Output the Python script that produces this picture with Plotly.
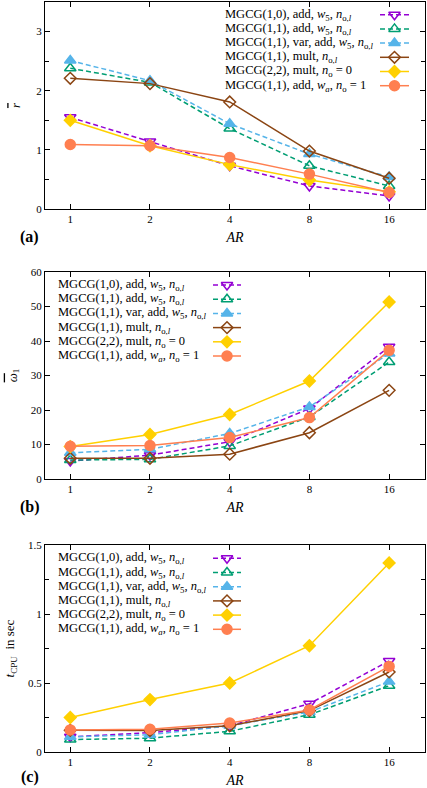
import math
import plotly.graph_objects as go

# ---------------- data ----------------
AR = [1, 2, 4, 8, 16]
AR_TICKS = ["1", "2", "4", "8", "16"]

series_names = [
    "MGCG(1,0), add, <i>w</i><sub>5</sub>, <i>n</i><sub>o,<i>l</i></sub>",
    "MGCG(1,1), add, <i>w</i><sub>5</sub>, <i>n</i><sub>o,<i>l</i></sub>",
    "MGCG(1,1), var, add, <i>w</i><sub>5</sub>, <i>n</i><sub>o,<i>l</i></sub>",
    "MGCG(1,1), mult, <i>n</i><sub>o,<i>l</i></sub>",
    "MGCG(2,2), mult, <i>n</i><sub>o</sub> = 0",
    "MGCG(1,1), add, <i>w</i><sub><i>a</i></sub>, <i>n</i><sub>o</sub> = 1",
]

# panel (a): mean r
r_mgcg10_add = [1.55, 1.14, 0.73, 0.39, 0.22]
r_mgcg11_add = [2.38, 2.14, 1.36, 0.73, 0.39]
r_mgcg11_var = [2.51, 2.17, 1.44, 0.93, 0.54]
r_mgcg11_mult = [2.21, 2.12, 1.81, 0.98, 0.52]
r_mgcg22_mult = [1.50, 1.07, 0.75, 0.49, 0.29]
r_mgcg11_wa = [1.09, 1.07, 0.87, 0.59, 0.28]

# panel (b): mean omega_1
w_mgcg10_add = [5.2, 6.9, 10.8, 20.4, 38.3]
w_mgcg11_add = [5.5, 5.7, 9.6, 18.0, 33.9]
w_mgcg11_var = [7.6, 8.6, 13.2, 20.9, 36.4]
w_mgcg11_mult = [6.0, 6.0, 7.2, 13.4, 25.7]
w_mgcg22_mult = [9.4, 12.9, 18.7, 28.4, 51.3]
w_mgcg11_wa = [9.5, 9.7, 12.0, 17.8, 37.3]

# panel (c): CPU time in sec
t_mgcg10_add = [0.11, 0.14, 0.19, 0.35, 0.66]
t_mgcg11_add = [0.09, 0.10, 0.15, 0.27, 0.48]
t_mgcg11_var = [0.11, 0.125, 0.19, 0.29, 0.51]
t_mgcg11_mult = [0.157, 0.155, 0.19, 0.30, 0.58]
t_mgcg22_mult = [0.25, 0.38, 0.50, 0.77, 1.37]
t_mgcg11_wa = [0.16, 0.165, 0.21, 0.305, 0.62]

panel_data = [
    [r_mgcg10_add, r_mgcg11_add, r_mgcg11_var, r_mgcg11_mult, r_mgcg22_mult, r_mgcg11_wa],
    [w_mgcg10_add, w_mgcg11_add, w_mgcg11_var, w_mgcg11_mult, w_mgcg22_mult, w_mgcg11_wa],
    [t_mgcg10_add, t_mgcg11_add, t_mgcg11_var, t_mgcg11_mult, t_mgcg22_mult, t_mgcg11_wa],
]

# ---------------- styles ----------------
W, H = 427, 788
FONT = "Liberation Serif, Times New Roman, serif"
colors = ["#9400D3", "#009E73", "#56B4E9", "#8B4513", "#FFD000", "#FF7F50"]
symbols = ["triangle-down-open", "triangle-up-open", "triangle-up", "diamond-open", "diamond", "circle"]
msizes = [10, 10, 10, 9, 9, 10]
dashes = ["5px,3px", "5px,3px", "5px,3px", "solid", "solid", "solid"]

X0, X1 = 45, 425                       # plot frame (px)
panels_px = [(2, 209), (272, 479), (545, 752)]   # (top, bottom) px
y_ranges = [[0, 3.5], [0, 60], [0, 1.5]]
y_dticks = [1, 10, 0.5]
y_minor = [0.5, None, 0.25]
y_titles = ["<i><span style='text-decoration:overline'>r</span></i>",
            "<i><span style='text-decoration:overline'>ω</span></i><sub>1</sub>",
            "<i>t</i><sub>CPU</sub>  in sec"]
y_standoff = [12, 10, 10]
panel_labels = ["(a)", "(b)", "(c)"]
label_y_px = [237, 507, 777]

# key layout (px)
leg_text_x = [223, 56, 56]
leg_line_x = [(380, 409), (213, 241), (213, 241)]
leg_row0 = [14.7, 285.0, 558.3]
leg_row_h = 14.2

log_lo = math.log10(2 ** -0.317)
log_hi = math.log10(2 ** 4.45)


def py(px):
    return 1 - px / H


fig = go.Figure()
layout = dict(
    width=W, height=H,
    margin=dict(l=0, r=0, t=0, b=0),
    paper_bgcolor="white", plot_bgcolor="rgba(0,0,0,0)",
    font=dict(family=FONT, size=11, color="black"),
    showlegend=False,
)
annotations = []

for p in range(3):
    top, bot = panels_px[p]
    xid = "" if p == 0 else str(p + 1)
    hid = str(p + 4)
    xdom = [X0 / W, X1 / W]
    ydom = [py(bot), py(top)]
    axis_common = dict(
        showline=True, linecolor="black", linewidth=1, mirror="allticks",
        ticks="inside", ticklen=5, tickcolor="black", showgrid=False, zeroline=False,
        tickfont=dict(family=FONT, size=11, color="black"),
    )
    layout["xaxis" + xid] = dict(
        domain=xdom, anchor="y" + xid, type="log", range=[log_lo, log_hi],
        tickvals=AR, ticktext=AR_TICKS,
        title=dict(text="<i>AR</i>", font=dict(family=FONT, size=14), standoff=7),
        automargin=False, **axis_common,
    )
    ya = dict(
        domain=ydom, anchor="x" + xid, range=y_ranges[p], dtick=y_dticks[p], tick0=0,
        title=dict(text=y_titles[p], font=dict(family=FONT, size=13), standoff=y_standoff[p]),
        automargin=False, **axis_common,
    )
    if y_minor[p]:
        ya["minor"] = dict(dtick=y_minor[p], ticks="inside", ticklen=4, tickcolor="black", showgrid=False)
    layout["yaxis" + xid] = ya
    # hidden pixel-space axes for the key
    layout["xaxis" + hid] = dict(domain=xdom, anchor="y" + hid, range=[X0, X1], visible=False, fixedrange=True)
    layout["yaxis" + hid] = dict(domain=ydom, anchor="x" + hid, range=[bot, top], visible=False, fixedrange=True)

    for s in range(6):
        fig.add_trace(go.Scatter(
            x=AR, y=panel_data[p][s], mode="lines+markers", name=series_names[s],
            xaxis="x" + xid, yaxis="y" + xid, cliponaxis=False,
            line=dict(color=colors[s], width=1.5, dash=dashes[s]),
            marker=dict(symbol=symbols[s], size=msizes[s], color=colors[s],
                        line=dict(color=colors[s], width=1.5)),
            showlegend=False,
        ))
        # key entry
        ry = leg_row0[p] + s * leg_row_h
        lx0, lx1 = leg_line_x[p]
        fig.add_trace(go.Scatter(
            x=[lx0, lx1], y=[ry, ry], mode="lines", xaxis="x" + hid, yaxis="y" + hid,
            line=dict(color=colors[s], width=1.5, dash=dashes[s]), showlegend=False, hoverinfo="skip",
        ))
        fig.add_trace(go.Scatter(
            x=[(lx0 + lx1) / 2], y=[ry], mode="markers", xaxis="x" + hid, yaxis="y" + hid,
            marker=dict(symbol=symbols[s], size=msizes[s], color=colors[s],
                        line=dict(color=colors[s], width=1.5)),
            showlegend=False, hoverinfo="skip",
        ))
        annotations.append(dict(
            text=series_names[s], xref="x" + hid, yref="y" + hid, x=leg_text_x[p], y=ry,
            xanchor="left", yanchor="middle", showarrow=False,
            font=dict(family=FONT, size=12.5, color="black"),
        ))
    annotations.append(dict(
        text="<b>" + panel_labels[p] + "</b>", xref="paper", yref="paper",
        x=30 / W, y=py(label_y_px[p]), xanchor="center", yanchor="middle", showarrow=False,
        font=dict(family=FONT, size=16, color="black"),
    ))

layout["annotations"] = annotations
fig.update_layout(**layout)
fig.write_html("out.html", config={"displayModeBar": False},
               post_script="document.body.style.margin='0';")
